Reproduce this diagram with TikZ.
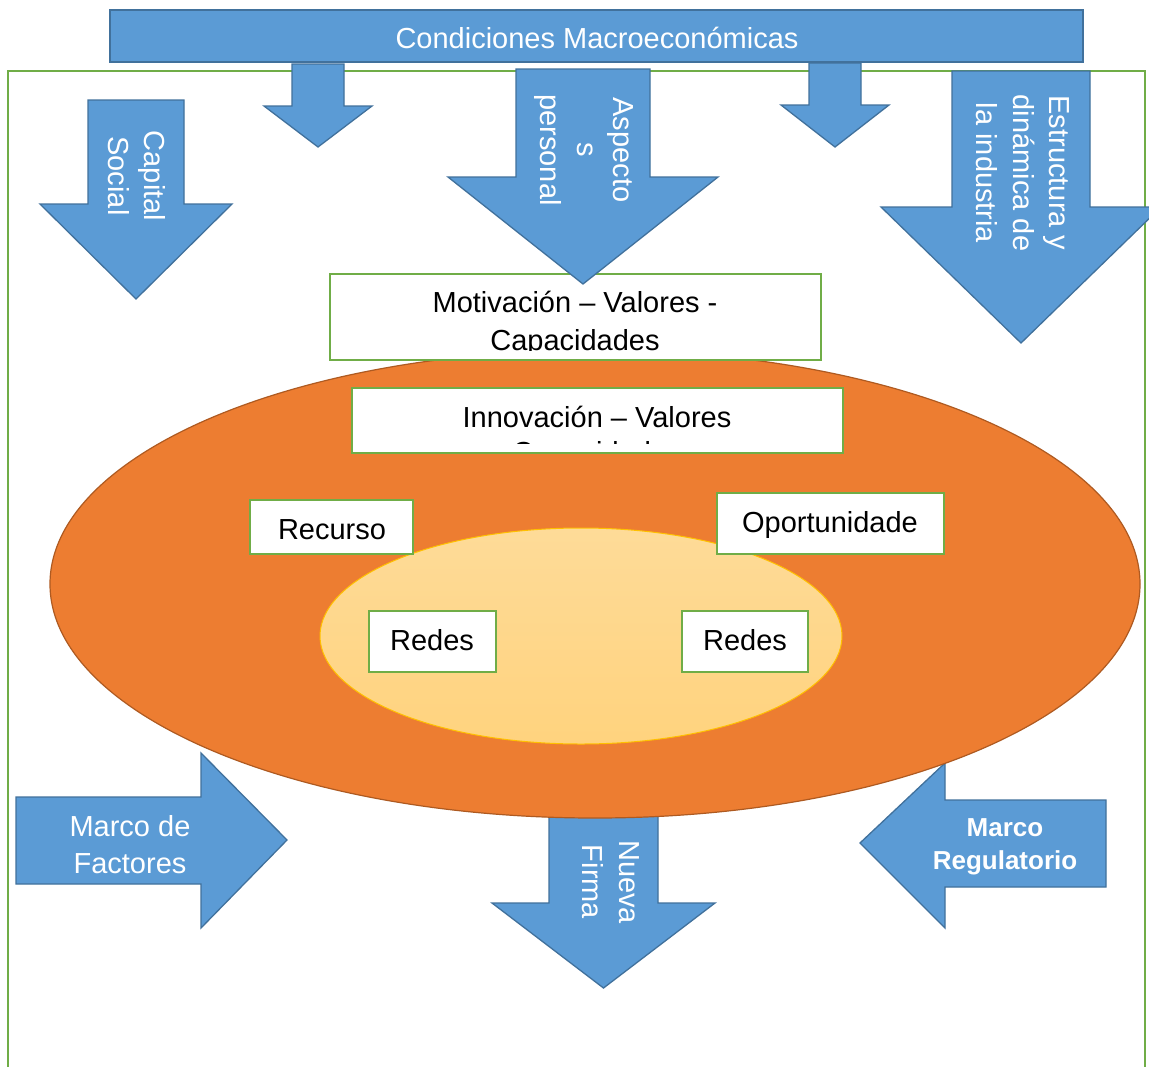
\documentclass[tikz,border=0pt]{standalone}
\usepackage{fontspec}
\setmainfont{Liberation Sans}
\definecolor{arrowblue}{HTML}{5B9BD5}
\definecolor{arrowedge}{HTML}{41719C}
\definecolor{boxgreen}{HTML}{70AD47}
\definecolor{outerorange}{HTML}{ED7D31}
\definecolor{outeredge}{HTML}{AE5A21}
\definecolor{innertop}{HTML}{FEDB98}
\definecolor{innerbottom}{HTML}{FFD37E}
\definecolor{inneredge}{HTML}{FFC000}
\begin{document}
\begin{tikzpicture}[x=1pt,y=-1pt,
  arrowshape/.style={fill=arrowblue, draw=arrowedge, line width=1.3pt, line join=miter},
  greenbox/.style={fill=white, draw=boxgreen, line width=2pt},
  wtext/.style={text=white, font=\fontsize{29}{36.5}\selectfont, inner sep=0pt},
  wbold/.style={text=white, font=\fontsize{26}{33}\selectfont\bfseries, inner sep=0pt},
  btext/.style={text=black, font=\fontsize{29}{36.5}\selectfont, inner sep=0pt},
]
\clip (0,0) rectangle (1149,1066);
\fill[white] (0,0) rectangle (1149,1066);

% outer green frame
\draw[boxgreen, line width=2pt] (8,71) rectangle (1145,1110);

% top banner
\draw[arrowshape] (110,10) rectangle (1083,62);
\node[wtext, anchor=base] (cond) at (597,48) {Condiciones Macroeconómicas};

% bottom arrows (behind ellipse)
\draw[arrowshape] (16,797) -- (201,797) -- (201,753) -- (287,840) -- (201,928) -- (201,884) -- (16,884) -- cycle;
\node[wtext, anchor=base] (mf1) at (130,836) {Marco de};
\node[wtext, anchor=base] (mf2) at (130,873) {Factores};

\draw[arrowshape] (1106,800) -- (945,800) -- (945,763) -- (860,843) -- (945,928) -- (945,887) -- (1106,887) -- cycle;
\node[wbold, anchor=base] (mr1) at (1005,836) {Marco};
\node[wbold, anchor=base] (mr2) at (1005,869) {Regulatorio};

\draw[arrowshape] (549,790) -- (658,790) -- (658,903) -- (715,903) -- (603.5,988) -- (492,903) -- (549,903) -- cycle;
\node[wtext, rotate=-90, align=center] (nf) at (611,882) {Nueva\\Firma};

% ellipses
\draw[fill=outerorange, draw=outeredge, line width=1.2pt] (595,584) ellipse [x radius=545, y radius=234];
\shade[top color=innertop, bottom color=innerbottom] (581,636) ellipse [x radius=261, y radius=108];
\draw[inneredge, line width=1pt] (581,636) ellipse [x radius=261, y radius=108];

% boxes
\draw[greenbox] (330,274) rectangle (821,360);
\begin{scope}
  \clip (332,276) rectangle (819,350);
  \node[btext, anchor=base] (mot1) at (575,312) {Motivación – Valores -};
  \node[btext, anchor=base] (mot2) at (575,350) {Capacidades};
\end{scope}

\draw[greenbox] (352,388) rectangle (843,453);
\begin{scope}
  \clip (354,390) rectangle (841,443);
  \node[btext, anchor=base] (inn1) at (597,427) {Innovación – Valores};
  \node[btext, anchor=base] (inn2) at (597,462) {Capacidades};
\end{scope}

\draw[greenbox] (250,500) rectangle (413,554);
\node[btext, anchor=base] (rec) at (332,539) {Recurso};
\draw[greenbox] (717,493) rectangle (944,554);
\node[btext, anchor=base] (opo) at (830,532) {Oportunidade};
\draw[greenbox] (369,611) rectangle (496,672);
\node[btext, anchor=base] (red1) at (432,650) {Redes};
\draw[greenbox] (682,611) rectangle (808,672);
\node[btext, anchor=base] (red2) at (745,650) {Redes};

% top arrows
\draw[arrowshape] (88,100) -- (184,100) -- (184,204) -- (232,204) -- (136,299) -- (40,204) -- (88,204) -- cycle;
\node[wtext, rotate=-90, align=center] (cap) at (137,176) {Capital\\Social};

\draw[arrowshape] (292,64) -- (344,64) -- (344,106) -- (372,106) -- (318,147) -- (264,106) -- (292,106) -- cycle;

\draw[arrowshape] (516,69) -- (650,69) -- (650,177) -- (718,177) -- (583,284) -- (448,177) -- (516,177) -- cycle;
\node[wtext, rotate=-90, align=center] (asp) at (584,150) {Aspecto\\s\\personal};

\draw[arrowshape] (809,63) -- (861,63) -- (861,105) -- (889,105) -- (835,147) -- (781,105) -- (809,105) -- cycle;

\draw[arrowshape] (952,71) -- (1090,71) -- (1090,207) -- (1161,207) -- (1021,343) -- (881,207) -- (952,207) -- cycle;
\node[wtext, rotate=-90, align=center] (est) at (1023,173) {Estructura y\\dinámica de\\la industria};
\end{tikzpicture}
\end{document}
